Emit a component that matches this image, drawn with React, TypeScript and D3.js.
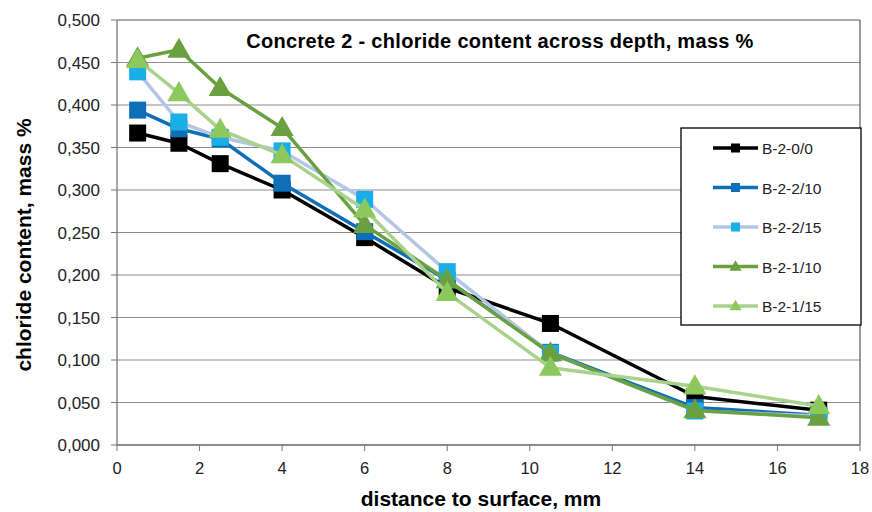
import * as d3 from "d3";
import React from "react";

// distance to surface, mm
const depths = [0.5, 1.5, 2.5, 4, 6, 8, 10.5, 14, 17];

// chloride content, mass %
const b200 = [0.367, 0.355, 0.331, 0.300, 0.244, 0.185, 0.143, 0.057, 0.041];
const b2210 = [0.394, 0.372, 0.360, 0.308, 0.251, 0.194, 0.109, 0.044, 0.035];
const b2215 = [0.439, 0.380, 0.362, 0.346, 0.289, 0.204, 0.108, 0.040, 0.034];
const b2110 = [0.455, 0.465, 0.420, 0.373, 0.259, 0.194, 0.108, 0.041, 0.032];
const b2115 = [0.453, 0.414, 0.371, 0.341, 0.277, 0.179, 0.091, 0.069, 0.046];

const seriesNames = ["B-2-0/0", "B-2-2/10", "B-2-2/15", "B-2-1/10", "B-2-1/15"];
const xTicks = [0, 2, 4, 6, 8, 10, 12, 14, 16, 18];
const yTicks = [0, 0.05, 0.1, 0.15, 0.2, 0.25, 0.3, 0.35, 0.4, 0.45, 0.5];

const series = [
  { name: seriesNames[0], values: b200, line: "#000000", marker: "#000000", shape: "square" },
  { name: seriesNames[1], values: b2210, line: "#0e6eb8", marker: "#0e6eb8", shape: "square" },
  { name: seriesNames[2], values: b2215, line: "#b4c6e6", marker: "#1aaee6", shape: "square" },
  { name: seriesNames[3], values: b2110, line: "#69a040", marker: "#69a040", shape: "triangle" },
  { name: seriesNames[4], values: b2115, line: "#a9d28c", marker: "#8cc85c", shape: "triangle" },
];

const W = 872, H = 512;
const left = 117, right = 860, top = 20, bottom = 445;

export default function App() {
  const x = d3.scaleLinear().domain([0, 18]).range([left, right]);
  const y = d3.scaleLinear().domain([0, 0.5]).range([bottom, top]);
  const line = d3.line<number>()
    .x((d, i) => x(depths[i]))
    .y(d => y(d));
  const fmt = (v: number) => v.toFixed(3).replace(".", ",");
  const font = "Liberation Sans, Arial, sans-serif";

  const marker = (shape: string, cx: number, cy: number, size: number, fill: string, key: any) => {
    if (shape === "square") {
      return <rect key={key} x={cx - size / 2} y={cy - size / 2} width={size} height={size} fill={fill} />;
    }
    const sym = d3.symbol().type(d3.symbolTriangle).size(size * size * 0.8)();
    return <path key={key} d={sym || ""} transform={`translate(${cx},${cy + size * 0.08})`} fill={fill} />;
  };

  const legX = 681, legY = 128, legW = 180, legH = 197;

  return (
    <svg width={W} height={H} style={{ position: "absolute", left: 0, top: 0, background: "#fff" }} fontFamily={font}>
      {/* gridlines */}
      {yTicks.map(t => (
        <line key={"g" + t} x1={left} x2={right} y1={y(t)} y2={y(t)}
          stroke={t === 0.5 ? "#555" : "#8c8c8c"} strokeWidth={1.2} />
      ))}
      <line x1={right} x2={right} y1={top} y2={bottom} stroke="#555" strokeWidth={1.2} />
      {/* axes */}
      <line x1={left} x2={left} y1={top} y2={bottom} stroke="#777" strokeWidth={1.3} />
      <line x1={left} x2={right} y1={bottom} y2={bottom} stroke="#777" strokeWidth={1.3} />
      {yTicks.map(t => (
        <g key={"y" + t}>
          <line x1={left - 6} x2={left} y1={y(t)} y2={y(t)} stroke="#777" />
          <text x={left - 17} y={y(t) + 6} fontSize={17} textAnchor="end" fill="#222">{fmt(t)}</text>
        </g>
      ))}
      {xTicks.map(t => (
        <g key={"x" + t}>
          <line x1={x(t)} x2={x(t)} y1={bottom} y2={bottom + 6} stroke="#777" />
          <text x={x(t)} y={bottom + 29} fontSize={16.5} textAnchor="middle" fill="#222">{t}</text>
        </g>
      ))}
      {/* series */}
      {series.map(s => (
        <g key={s.name}>
          <path d={line(s.values) || ""} fill="none" stroke={s.line} strokeWidth={3.5} strokeLinejoin="round" />
          {s.values.map((v, i) => marker(s.shape, x(depths[i]), y(v), 17, s.marker, i))}
        </g>
      ))}
      {/* title */}
      <text x={500} y={48} fontSize={20} letterSpacing={0.3} fontWeight="bold" textAnchor="middle" fill="#000">
        Concrete 2 - chloride content across depth, mass %
      </text>
      {/* legend */}
      <rect x={legX} y={legY} width={legW} height={legH} fill="#fff" stroke="#000" strokeWidth={1.3} />
      {series.map((s, i) => {
        const ly = legY + 20 + i * 39.5;
        return (
          <g key={"l" + s.name}>
            <line x1={713} x2={758} y1={ly} y2={ly} stroke={s.line} strokeWidth={3.5} />
            {marker(s.shape, 735.5, ly, 9, s.marker, "m")}
            <text x={762} y={ly + 6} fontSize={15.5} fill="#222">{s.name}</text>
          </g>
        );
      })}
      {/* axis titles */}
      <text x={481} y={506} fontSize={21} fontWeight="bold" textAnchor="middle" fill="#000">
        distance to surface, mm
      </text>
      <text transform={`translate(31,245) rotate(-90)`} fontSize={21} fontWeight="bold" textAnchor="middle" fill="#000">
        chloride content, mass %
      </text>
    </svg>
  );
}
